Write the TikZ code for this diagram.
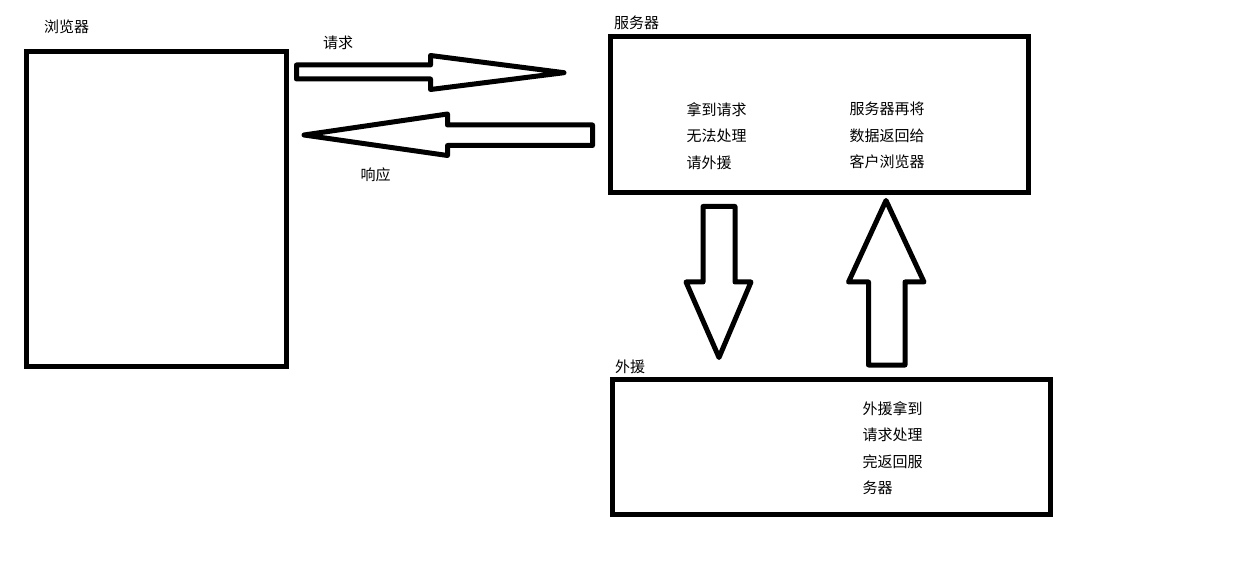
\documentclass[tikz,border=0pt]{standalone}
\usepackage{fontspec}
\newfontfamily\cjk{Noto Sans CJK SC}
\begin{document}
\begin{tikzpicture}[x=1pt,y=-1pt,
  box/.style={draw=black, line width=5pt, inner sep=0pt, fill=none},
  lbl/.style={font=\cjk\fontsize{15}{26.3}\selectfont, inner sep=0pt, align=left, text=black},
  bigarrow/.style={draw=black, line width=5pt, line join=round, fill=white}]
\useasboundingbox[fill=white] (0,0) rectangle (1255,585);

% boxes
\node[box, minimum width=260pt, minimum height=315pt] (browser) at (156.5,209) {};
\node[box, minimum width=418pt, minimum height=156pt] (server) at (819.5,114.5) {};
\node[box, minimum width=438pt, minimum height=135pt] (helper) at (831.5,447) {};

% titles
\node[lbl] (tbrowser) at (66.5,27) {浏览器};
\node[lbl] (tserver) at (636.5,23) {服务器};
\node[lbl] (thelper) at (630,367) {外援};

% arrow labels
\node[lbl] (treq) at (338,43) {请求};
\node[lbl] (tresp) at (375.5,175) {响应};

% box texts
\node[lbl, anchor=west] (s1) at (686.5,136) {拿到请求\\无法处理\\请外援};
\node[lbl, anchor=west] (s2) at (849.5,135.5) {服务器再将\\数据返回给\\客户浏览器};
\node[lbl, anchor=west] (h1) at (862.5,448) {外援拿到\\请求处理\\完返回服\\务器};

% big block arrows
\draw[bigarrow] (296.5,65) -- (430.5,65) -- (430.5,55.5) -- (564,72.7) -- (430.5,89.5) -- (430.5,79) -- (296.5,79) -- cycle;
\draw[bigarrow] (592.5,125) -- (447.5,125) -- (447.5,114) -- (304,135) -- (447.5,155.5) -- (447.5,145.5) -- (592.5,145.5) -- cycle;
\draw[bigarrow] (703,206.5) -- (735,206.5) -- (735,282) -- (751,282) -- (719,357.5) -- (686,282) -- (703,282) -- cycle;
\draw[bigarrow] (868.5,365) -- (905,365) -- (905,282) -- (924,282) -- (886,200.5) -- (848.5,282) -- (868.5,282) -- cycle;
\end{tikzpicture}
\end{document}
